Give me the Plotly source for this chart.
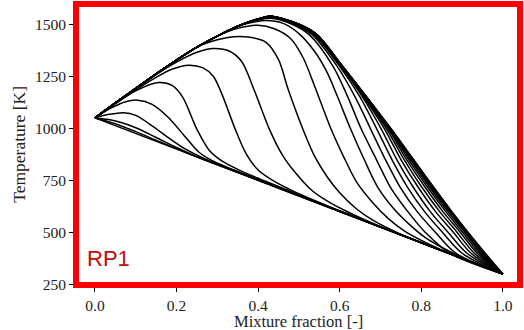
import plotly.graph_objects as go

# ---------------- data ----------------
# mixing line (non-reacting)
Z_MIX = [0.0, 1.0]
T_MIX = [1050, 300]

# early, weakly reacting profiles
Z_C1 = [0, 0.05, 0.1, 0.16, 0.25, 0.4, 1.0]
T_C1 = [1050, 1022, 984, 934, 863, 750, 300]

Z_C2 = [0, 0.03, 0.06, 0.1, 0.15, 0.2, 0.26, 0.35, 0.5, 1.0]
T_C2 = [1050, 1043, 1030, 1003, 956, 908, 855, 789, 676, 300]

Z_C3 = [0, 0.035, 0.07, 0.1, 0.14, 0.18, 0.22, 0.27, 0.34, 0.45, 1.0]
T_C3 = [1050, 1067, 1075, 1062, 1012, 955, 902, 853, 800, 716, 300]

Z_C4 = [0, 0.04, 0.075, 0.105, 0.14, 0.18, 0.22, 0.255, 0.29, 0.34, 0.42, 0.55, 1.0]
T_C4 = [1050, 1098, 1128, 1135, 1115, 1052, 962, 885, 842, 800, 738, 640, 300]

Z_C5 = [0, 0.05, 0.1, 0.155, 0.19, 0.215, 0.25, 0.28, 0.31, 0.35, 0.4, 0.48, 0.6, 1.0]
T_C5 = [1050, 1118, 1180, 1220, 1205, 1150, 995, 895, 845, 803, 760, 697, 602, 300]

Z_C6 = [0, 0.05, 0.1, 0.15, 0.19, 0.23, 0.265, 0.29, 0.31, 0.345, 0.37, 0.4, 0.44, 0.49, 0.56, 0.65, 1.0]
T_C6 = [1050, 1120, 1185, 1245, 1285, 1303, 1290, 1250, 1170, 990, 880, 800, 745, 695, 636, 565, 300]

Z_C7 = [0, 0.05, 0.1, 0.15, 0.2, 0.25, 0.29, 0.33, 0.36, 0.39, 0.43, 0.46, 0.49, 0.53, 0.57, 0.62, 0.7, 1.0]
T_C7 = [1050, 1122, 1190, 1258, 1318, 1365, 1383, 1370, 1320, 1185, 985, 870, 790, 705, 650, 598, 528, 300]

Z_C8 = [0, 0.05, 0.1, 0.15, 0.2, 0.25, 0.3, 0.34, 0.38, 0.42, 0.45, 0.474, 0.512, 0.54, 0.57, 0.6, 0.64, 0.68, 0.74, 0.85, 1.0]
T_C8 = [1050, 1122, 1192, 1262, 1328, 1390, 1425, 1440, 1437, 1412, 1330, 1185, 985, 860, 765, 690, 615, 560, 500, 412, 300]

Z_C9 = [0, 0.05, 0.1, 0.15, 0.2, 0.25, 0.3, 0.35, 0.4, 0.44, 0.48, 0.51, 0.54, 0.578, 0.61, 0.642, 0.68, 0.72, 0.76, 0.81, 0.88, 1.0]
T_C9 = [1050, 1122, 1192, 1262, 1328, 1390, 1443, 1480, 1495, 1478, 1430, 1340, 1195, 1000, 862, 740, 645, 565, 505, 452, 390, 300]

Z_C10 = [0, 0.05, 0.1, 0.15, 0.2, 0.25, 0.3, 0.35, 0.39, 0.42, 0.46, 0.5, 0.54, 0.57, 0.595, 0.626, 0.66, 0.693, 0.73, 0.77, 0.81, 0.86, 0.92, 1.0]
T_C10 = [1050, 1122, 1192, 1262, 1328, 1390, 1443, 1490, 1510, 1518, 1505, 1455, 1365, 1265, 1150, 1000, 850, 718, 620, 540, 475, 418, 362, 300]

# lean-side branch shared by the late (fully burning) profiles
LEAN_Z = [0, 0.05, 0.1, 0.15, 0.2, 0.25, 0.3, 0.35]
LEAN_T = [1050, 1122, 1192, 1262, 1328, 1390, 1443, 1490]

# late profiles: temperature at Z=0.40 and Z=0.43 (peak)
BUNDLE_T040 = [1520, 1522, 1524, 1524, 1525, 1525, 1525, 1525, 1525, 1525, 1525, 1525, 1525]
BUNDLE_PEAK = [1528, 1531, 1533, 1535, 1536, 1537, 1538, 1538, 1538, 1538, 1538, 1538, 1538]
# rich side: mixture fraction where each late profile crosses these temperatures
RICH_T = [1500, 1450, 1300, 1150, 1000, 850, 718, 600, 500, 400]
Z_B1 = [0.483, 0.525, 0.583, 0.620, 0.652, 0.690, 0.724, 0.767, 0.810, 0.870]
Z_B2 = [0.488, 0.532, 0.593, 0.638, 0.675, 0.712, 0.748, 0.790, 0.835, 0.885]
Z_B3 = [0.492, 0.537, 0.599, 0.650, 0.690, 0.728, 0.766, 0.808, 0.852, 0.900]
Z_B4 = [0.495, 0.540, 0.602, 0.656, 0.701, 0.740, 0.780, 0.822, 0.866, 0.912]
Z_B5 = [0.497, 0.541, 0.603, 0.659, 0.709, 0.750, 0.792, 0.835, 0.879, 0.922]
Z_B6 = [0.498, 0.542, 0.604, 0.661, 0.714, 0.758, 0.801, 0.845, 0.888, 0.930]
Z_B7 = [0.499, 0.543, 0.605, 0.663, 0.718, 0.764, 0.809, 0.853, 0.896, 0.937]
Z_B8 = [0.499, 0.543, 0.605, 0.664, 0.720, 0.769, 0.815, 0.860, 0.902, 0.942]
Z_B9 = [0.500, 0.544, 0.606, 0.665, 0.722, 0.773, 0.820, 0.865, 0.907, 0.946]
Z_B10 = [0.500, 0.544, 0.606, 0.665, 0.723, 0.776, 0.824, 0.869, 0.910, 0.950]
Z_B11 = [0.500, 0.544, 0.606, 0.666, 0.724, 0.778, 0.827, 0.872, 0.913, 0.953]
Z_B12 = [0.500, 0.544, 0.606, 0.666, 0.7245, 0.780, 0.829, 0.874, 0.914, 0.955]
Z_ENV = [0.500, 0.544, 0.606, 0.666, 0.725, 0.781, 0.830, 0.875, 0.915, 0.957]
BUNDLE_RICH_Z = [Z_B1, Z_B2, Z_B3, Z_B4, Z_B5, Z_B6, Z_B7, Z_B8, Z_B9, Z_B10, Z_B11, Z_B12, Z_ENV]

X_TICKS = [0.0, 0.2, 0.4, 0.6, 0.8, 1.0]
Y_TICKS = [250, 500, 750, 1000, 1250, 1500]

# ---------------- figure ----------------
fig = go.Figure()
line_style = dict(color="black", width=1.5, shape="spline", smoothing=0.9)

early = [(Z_MIX, T_MIX), (Z_C1, T_C1), (Z_C2, T_C2), (Z_C3, T_C3), (Z_C4, T_C4),
         (Z_C5, T_C5), (Z_C6, T_C6), (Z_C7, T_C7), (Z_C8, T_C8), (Z_C9, T_C9),
         (Z_C10, T_C10)]
for z, t in early:
    fig.add_trace(go.Scatter(x=z, y=t, mode="lines", line=line_style,
                             showlegend=False, hoverinfo="skip"))

for i, rz in enumerate(BUNDLE_RICH_Z):
    z = LEAN_Z + [0.40, 0.43] + rz + [1.0]
    t = LEAN_T + [BUNDLE_T040[i], BUNDLE_PEAK[i]] + RICH_T + [300]
    fig.add_trace(go.Scatter(x=z, y=t, mode="lines", line=line_style,
                             showlegend=False, hoverinfo="skip"))

serif = "Liberation Serif, Times New Roman, serif"
fig.update_layout(
    width=524, height=330,
    margin=dict(l=76, r=4, t=4, b=45),
    paper_bgcolor="white", plot_bgcolor="white",
    font=dict(family=serif, size=16, color="#222222"),
    xaxis=dict(range=[-0.0465, 1.042], tickvals=X_TICKS, tickformat=".1f",
               ticks="outside", ticklen=6, tickcolor="black", tickwidth=1,
               showgrid=False, zeroline=False, showline=False,
               tickfont=dict(family=serif, size=15.5, color="#222222")),
    yaxis=dict(range=[247.5, 1597], tickvals=Y_TICKS,
               ticks="outside", ticklen=6, tickcolor="black", tickwidth=1,
               showgrid=False, zeroline=False, showline=False,
               tickfont=dict(family=serif, size=15.5, color="#222222")),
    shapes=[dict(type="rect", xref="paper", yref="paper", x0=0, x1=1, y0=0, y1=1,
                 line=dict(color="#fe0000", width=6), layer="above")],
    annotations=[
        dict(text="Mixture fraction [-]", xref="paper", yref="paper", x=0.5, y=-0.13,
             xanchor="center", yanchor="middle", showarrow=False,
             font=dict(family=serif, size=16.5, color="#222222")),
        dict(text="Temperature [K]", xref="paper", yref="paper", x=-0.13, y=0.5,
             xanchor="center", yanchor="middle", showarrow=False, textangle=-90,
             font=dict(family=serif, size=17.5, color="#222222")),
        dict(text="RP1", xref="paper", yref="paper", x=0.0743, y=0.096,
             xanchor="center", yanchor="middle", showarrow=False,
             font=dict(family="Liberation Sans, Arial, sans-serif", size=22, color="#c00d0d")),
    ],
)

fig.write_html(
    "out.html",
    config={"displayModeBar": False, "staticPlot": True},
    post_script="document.body.style.margin='0';document.body.style.padding='0';"
                "document.body.style.overflow='hidden';",
)
